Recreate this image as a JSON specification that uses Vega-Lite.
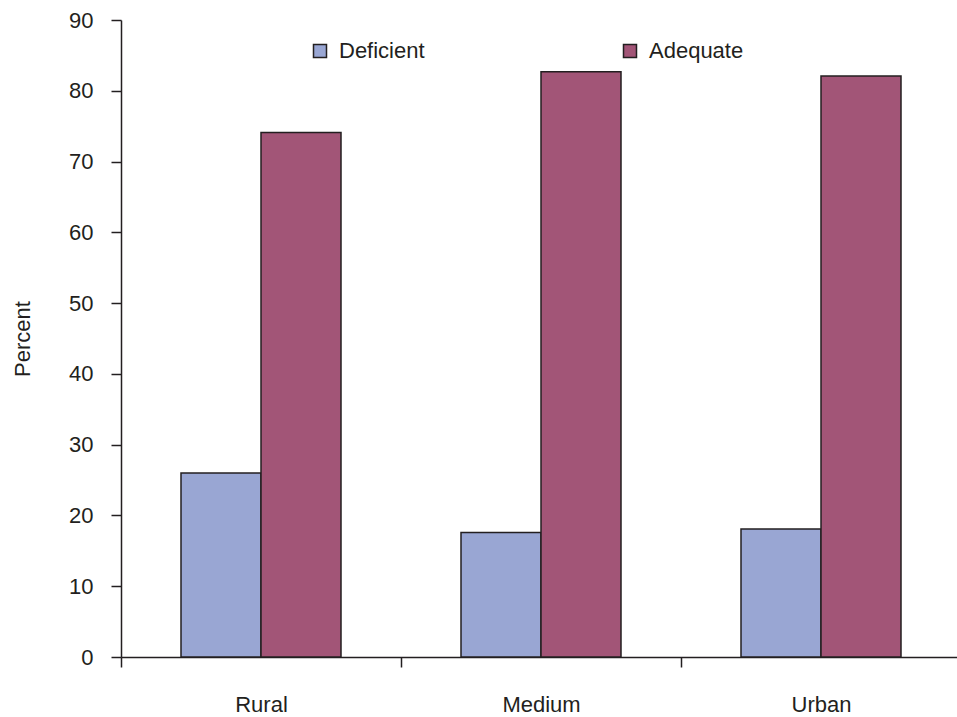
{
  "$schema": "https://vega.github.io/schema/vega-lite/v6.json",
  "autosize": "none",
  "padding": {"left": 121, "top": 20, "right": 0, "bottom": 60},
  "width": 840,
  "height": 637,
  "background": "white",
  "config": {
    "view": {"stroke": null},
    "font": "Liberation Sans",
    "axis": {"labelFont": "Liberation Sans", "titleFont": "Liberation Sans", "labelColor": "#231f20", "titleColor": "#231f20", "domainColor": "#231f20", "tickColor": "#231f20", "domainWidth": 1.5, "tickWidth": 1.5}
  },
  "data": {
    "values": [
      {"area": "Rural", "status": "Deficient", "percent": 26.0},
      {"area": "Rural", "status": "Adequate", "percent": 74.1},
      {"area": "Medium", "status": "Deficient", "percent": 17.6},
      {"area": "Medium", "status": "Adequate", "percent": 82.7},
      {"area": "Urban", "status": "Deficient", "percent": 18.1},
      {"area": "Urban", "status": "Adequate", "percent": 82.1}
    ]
  },
  "mark": {"type": "bar", "stroke": "#231f20", "strokeWidth": 1.5},
  "encoding": {
    "x": {
      "field": "area", "type": "nominal", "sort": ["Rural", "Medium", "Urban"],
      "scale": {"paddingInner": 0, "paddingOuter": 0},
      "axis": {"title": null, "labelAngle": 0, "labelFontSize": 22, "tickBand": "extent", "tickSize": 10, "labelPadding": 27, "grid": false}
    },
    "xOffset": {
      "field": "status", "type": "nominal", "sort": ["Deficient", "Adequate"],
      "scale": {"paddingInner": 0, "paddingOuter": 0.75}
    },
    "y": {
      "field": "percent", "type": "quantitative",
      "scale": {"domain": [0, 90], "nice": false},
      "axis": {"title": "Percent", "titleFontSize": 22, "titleFontWeight": "normal", "labelFontSize": 22, "values": [0,10,20,30,40,50,60,70,80,90], "labelOverlap": false, "tickSize": 10, "labelPadding": 18, "grid": false, "titlePadding": 34}
    },
    "color": {
      "field": "status", "type": "nominal", "sort": ["Deficient", "Adequate"],
      "scale": {"domain": ["Deficient", "Adequate"], "range": ["#99a6d3", "#a25577"]},
      "legend": {
        "title": null, "orient": "none", "legendX": 188, "legendY": 20, "direction": "horizontal",
        "symbolType": "square", "symbolSize": 169, "symbolStrokeColor": "#231f20", "symbolStrokeWidth": 1.5,
        "labelFontSize": 22, "labelColor": "#231f20", "labelOffset": 8, "columnPadding": 194
      }
    }
  }
}
